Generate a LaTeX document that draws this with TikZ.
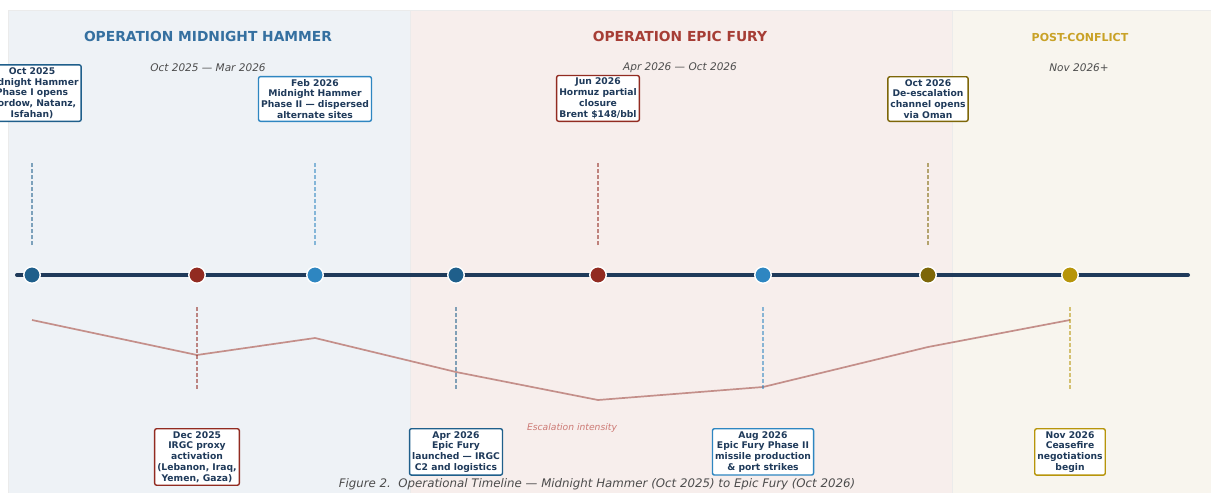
\documentclass[tikz,border=0pt]{standalone}
\usepackage{fontspec}
\setmainfont{DejaVu Sans}
\usepackage{xcolor}
\definecolor{bandham}{HTML}{EEF2F6}
\definecolor{bandfury}{HTML}{F7EEEC}
\definecolor{bandpost}{HTML}{F8F5EE}
\definecolor{navy}{HTML}{1F3A5A}
\definecolor{hamdark}{HTML}{1F5F8B}
\definecolor{hamlight}{HTML}{2E86C1}
\definecolor{furyred}{HTML}{922B21}
\definecolor{olive}{HTML}{7D6608}
\definecolor{gold}{HTML}{B7950B}
\definecolor{escal}{HTML}{C48F8A}
\definecolor{hamtitle}{HTML}{3570A0}
\definecolor{furytitle}{HTML}{A63D35}
\definecolor{posttitle}{HTML}{C9A227}

\begin{document}
\begin{tikzpicture}[x=1pt, y=-1pt,
  ev/.style={circle, draw=white, line width=1.4pt, minimum size=16.5pt, inner sep=0pt},
  lbl/.style={rectangle, rounded corners=2pt, draw, line width=1.4pt, fill=white, align=center, inner sep=2.6pt, text=navy, font=\fontsize{9.2}{10.8}\selectfont\bfseries},
  toplbl/.style={lbl, anchor=south},
  botlbl/.style={lbl, anchor=north},
  guide/.style={line width=1.1pt, dash pattern=on 4pt off 2pt, opacity=0.55},
  phase/.style={font=\fontsize{13.8}{16}\selectfont\bfseries},
  span/.style={font=\fontsize{10.5}{12}\selectfont\itshape, text=black!70}
]
\useasboundingbox (0,0) rectangle (1211,493);
\fill[bandham] (8,10) rectangle (410,493);
\fill[bandfury] (410,10) rectangle (952,493);
\fill[bandpost] (952,10) rectangle (1211,493);
\draw[black!8, line width=0.5pt] (8,493) -- (8,10) -- (1211,10);
\draw[black!8, line width=0.5pt] (410,10) -- (410,493);
\draw[black!8, line width=0.5pt] (952,10) -- (952,493);
\node[phase, text=hamtitle] (p0) at (208,36) {OPERATION MIDNIGHT HAMMER};
\node[phase, text=furytitle] (p1) at (680,36) {OPERATION EPIC FURY};
\node[phase, text=posttitle, font=\fontsize{11}{13}\selectfont\bfseries] (p2) at (1080,37) {POST-CONFLICT};
\node[span] (s0) at (208,68) {Oct 2025 — Mar 2026};
\node[span] (s1) at (680,68) {Apr 2026 — Oct 2026};
\node[span] (s2) at (1079,68) {Nov 2026+};
\draw[escal, line width=1.7pt, line join=round] (32,320) -- (197,355) -- (315,338) -- (456,372) -- (598,400) -- (763,387) -- (928,347) -- (1070,320);
\node[font=\fontsize{9.2}{11}\selectfont\itshape, text=escal!85!red] (esc) at (572,428) {Escalation intensity};
\draw[navy, line width=4pt, line cap=round] (17,275) -- (1188,275);
\node[ev, fill=hamdark] (n0) at (32,275) {};
\node[ev, fill=furyred] (n1) at (197,275) {};
\node[ev, fill=hamlight] (n2) at (315,275) {};
\node[ev, fill=hamdark] (n3) at (456,275) {};
\node[ev, fill=furyred] (n4) at (598,275) {};
\node[ev, fill=hamlight] (n5) at (763,275) {};
\node[ev, fill=olive] (n6) at (928,275) {};
\node[ev, fill=gold] (n7) at (1070,275) {};
\draw[guide, hamdark] ([yshift=30pt]n0.center) -- ([yshift=113pt]n0.center);
\draw[guide, furyred] ([yshift=-32pt]n1.center) -- ([yshift=-115pt]n1.center);
\draw[guide, hamlight] ([yshift=30pt]n2.center) -- ([yshift=113pt]n2.center);
\draw[guide, hamdark] ([yshift=-32pt]n3.center) -- ([yshift=-115pt]n3.center);
\draw[guide, furyred] ([yshift=30pt]n4.center) -- ([yshift=113pt]n4.center);
\draw[guide, hamlight] ([yshift=-32pt]n5.center) -- ([yshift=-115pt]n5.center);
\draw[guide, olive] ([yshift=30pt]n6.center) -- ([yshift=113pt]n6.center);
\draw[guide, gold] ([yshift=-32pt]n7.center) -- ([yshift=-115pt]n7.center);
\node[toplbl, draw=hamdark] (b0) at (32,122) {Oct 2025\\Midnight Hammer\\Phase I opens\\(Fordow, Natanz,\\Isfahan)};
\node[botlbl, draw=furyred] (b1) at (197,428) {Dec 2025\\IRGC proxy\\activation\\(Lebanon, Iraq,\\Yemen, Gaza)};
\node[toplbl, draw=hamlight] (b2) at (315,122) {Feb 2026\\Midnight Hammer\\Phase II — dispersed\\alternate sites};
\node[botlbl, draw=hamdark] (b3) at (456,428) {Apr 2026\\Epic Fury\\launched — IRGC\\C2 and logistics};
\node[toplbl, draw=furyred] (b4) at (598,122) {Jun 2026\\Hormuz partial\\closure\\Brent \$148/bbl};
\node[botlbl, draw=hamlight] (b5) at (763,428) {Aug 2026\\Epic Fury Phase II\\missile production\\\& port strikes};
\node[toplbl, draw=olive] (b6) at (928,122) {Oct 2026\\De-escalation\\channel opens\\via Oman};
\node[botlbl, draw=gold] (b7) at (1070,428) {Nov 2026\\Ceasefire\\negotiations\\begin};
\node[font=\fontsize{11.8}{13}\selectfont\itshape, text=black!70] (cap) at (597,484) {Figure 2.\ \ Operational Timeline — Midnight Hammer (Oct 2025) to Epic Fury (Oct 2026)};
\end{tikzpicture}
\end{document}
